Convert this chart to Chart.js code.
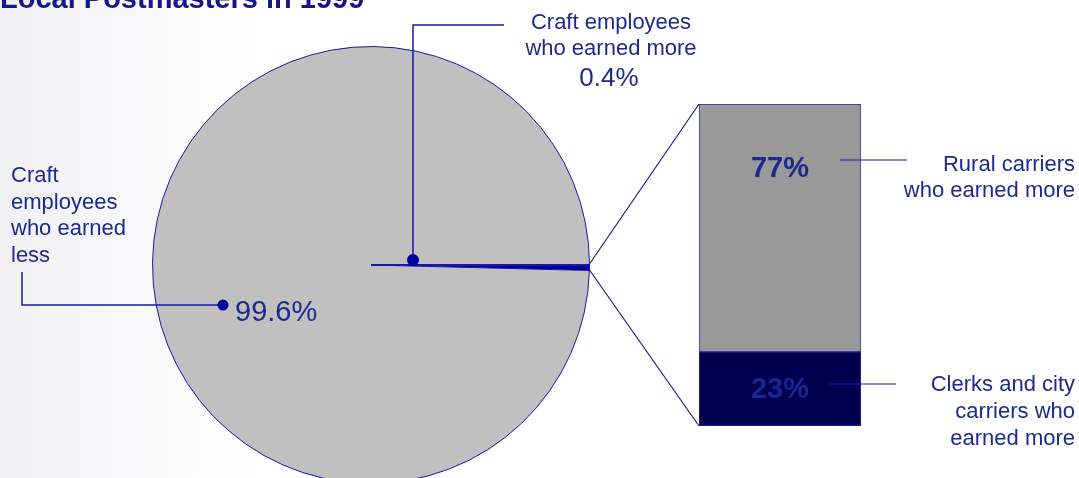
<!DOCTYPE html>
<html>
<head>
<meta charset="utf-8">
<script src="https://cdn.jsdelivr.net/npm/chart.js@4.4.0/dist/chart.umd.min.js"></script>
<style>
  html, body { margin: 0; padding: 0; width: 1079px; height: 478px; overflow: hidden; }
  body { background: linear-gradient(to right, #f1f1f3 0px, #f8f8fa 120px, #ffffff 260px); position: relative; }
  #pieWrap { position: absolute; left: 0; top: 0; width: 1079px; height: 500px; z-index: 2; }
  #barWrap { position: absolute; left: 699px; top: 104px; width: 162px; height: 322px; z-index: 1; }
</style>
</head>
<body>
<div id="pieWrap"><canvas id="pieChart"></canvas></div>
<div id="barWrap"><canvas id="barChart"></canvas></div>
<script>
// Datos
const pieLabels = ['Craft employees who earned more', 'Craft employees who earned less'];
const pieValues = [0.4, 99.6];
const barLabels = ['Clerks and city carriers who earned more', 'Rural carriers who earned more'];
const barValues = [23, 77];

const NAVY = '#1c2a8e';
const LINE = '#1a1aa0';
const FONT = "'Liberation Sans', Arial, Helvetica, sans-serif";

// barra: posicion en la pagina (para las lineas de union)
const BAR_LEFT = 699, BAR_TOP = 104, BAR_BOTTOM = 426;

function dot(ctx, x, y, r) {
    ctx.beginPath();
    ctx.arc(x, y, r, 0, Math.PI * 2);
    ctx.fill();
}

const pieAnnotations = {
    id: 'pieAnnotations',
    afterDraw(chart) {
        const ctx = chart.ctx;
        const arc = chart.getDatasetMeta(0).data[0];
        const cx = arc.x, cy = arc.y, r = arc.outerRadius;
        ctx.save();

        // titulo (cortado arriba)
        ctx.fillStyle = '#16168c';
        ctx.font = 'bold 29px ' + FONT;
        ctx.textAlign = 'left';
        ctx.textBaseline = 'alphabetic';
        ctx.fillText('Local Postmasters in 1999', 0, 8);

        // lineas hacia la barra
        ctx.strokeStyle = LINE;
        ctx.lineWidth = 1.2;
        ctx.beginPath();
        ctx.moveTo(cx + r, cy - 1);
        ctx.lineTo(BAR_LEFT, BAR_TOP);
        ctx.moveTo(cx + r, cy + 5);
        ctx.lineTo(BAR_LEFT, BAR_BOTTOM);
        ctx.stroke();

        // linea de inicio del sector pequeño
        ctx.lineWidth = 2;
        ctx.beginPath();
        ctx.moveTo(cx, cy);
        ctx.lineTo(cx + r, cy);
        ctx.stroke();

        // guia del 0.4%
        ctx.lineWidth = 1.5;
        ctx.beginPath();
        ctx.moveTo(504, 25);
        ctx.lineTo(413, 25);
        ctx.lineTo(413, 260);
        ctx.stroke();
        ctx.fillStyle = '#00009a';
        dot(ctx, 413, 260, 6);

        // guia del 99.6%
        ctx.beginPath();
        ctx.moveTo(22, 272);
        ctx.lineTo(22, 305);
        ctx.lineTo(223, 305);
        ctx.stroke();
        dot(ctx, 223, 305, 5.5);

        ctx.fillStyle = NAVY;
        ctx.font = '22px ' + FONT;
        ctx.textAlign = 'center';
        ctx.fillText('Craft employees', 611, 29);
        ctx.fillText('who earned more', 611, 55);
        ctx.font = '26px ' + FONT;
        ctx.fillText(pieValues[0] + '%', 609, 86);

        ctx.font = '22px ' + FONT;
        ctx.textAlign = 'left';
        ['Craft', 'employees', 'who earned', 'less'].forEach((t, i) => {
            ctx.fillText(t, 11, 182 + i * 26.5);
        });
        ctx.font = '29px ' + FONT;
        ctx.fillText(pieValues[1] + '%', 235, 321);

        // guias de la barra
        ctx.strokeStyle = LINE;
        ctx.lineWidth = 1.2;
        ctx.beginPath();
        ctx.moveTo(840, 160);
        ctx.lineTo(907, 160);
        ctx.moveTo(829, 384);
        ctx.lineTo(896, 384);
        ctx.stroke();

        ctx.font = '22px ' + FONT;
        ctx.textAlign = 'right';
        ctx.fillText('Rural carriers', 1075, 171);
        ctx.fillText('who earned more', 1075, 197);
        ctx.fillText('Clerks and city', 1075, 391);
        ctx.fillText('carriers who', 1075, 418);
        ctx.fillText('earned more', 1075, 445);

        ctx.restore();
    }
};

new Chart(document.getElementById('pieChart'), {
    type: 'pie',
    data: {
        labels: pieLabels,
        datasets: [{
            data: pieValues,
            backgroundColor: ['#00009a', '#c0c0c0'],
            borderColor: ['#00009a', '#1a1aa0'],
            borderWidth: 1
        }]
    },
    options: {
        responsive: true,
        maintainAspectRatio: false,
        animation: false,
        rotation: 90,
        layout: { padding: { left: 152, right: 489, top: 46, bottom: 16 } },
        plugins: { legend: { display: false }, tooltip: { enabled: false } }
    },
    plugins: [pieAnnotations]
});

const barAnnotations = {
    id: 'barAnnotations',
    afterDraw(chart) {
        const ctx = chart.ctx;
        const top = chart.getDatasetMeta(1).data[0];
        const bottom = chart.getDatasetMeta(0).data[0];
        ctx.save();
        ctx.font = 'bold 29px ' + FONT;
        ctx.textAlign = 'center';
        ctx.textBaseline = 'middle';
        ctx.fillStyle = '#1c2a8e';
        ctx.fillText(barValues[1] + '%', top.x, top.y + 65);
        ctx.fillStyle = '#1a2690';
        ctx.fillText(barValues[0] + '%', bottom.x, (bottom.y + bottom.base) / 2 + 1);
        ctx.restore();
    }
};

new Chart(document.getElementById('barChart'), {
    type: 'bar',
    data: {
        labels: [''],
        datasets: [
            { label: barLabels[0], data: [barValues[0]], backgroundColor: '#00004f', borderColor: '#2a2aa8', borderWidth: 1, borderSkipped: false },
            { label: barLabels[1], data: [barValues[1]], backgroundColor: '#999999', borderColor: '#2a2aa8', borderWidth: 1, borderSkipped: false }
        ]
    },
    options: {
        responsive: true,
        maintainAspectRatio: false,
        animation: false,
        layout: { padding: 0 },
        datasets: { bar: { barPercentage: 1, categoryPercentage: 1 } },
        scales: {
            x: { stacked: true, display: false },
            y: { stacked: true, display: false, min: 0, max: 100 }
        },
        plugins: { legend: { display: false }, tooltip: { enabled: false } }
    },
    plugins: [barAnnotations]
});
</script>
</body>
</html>
